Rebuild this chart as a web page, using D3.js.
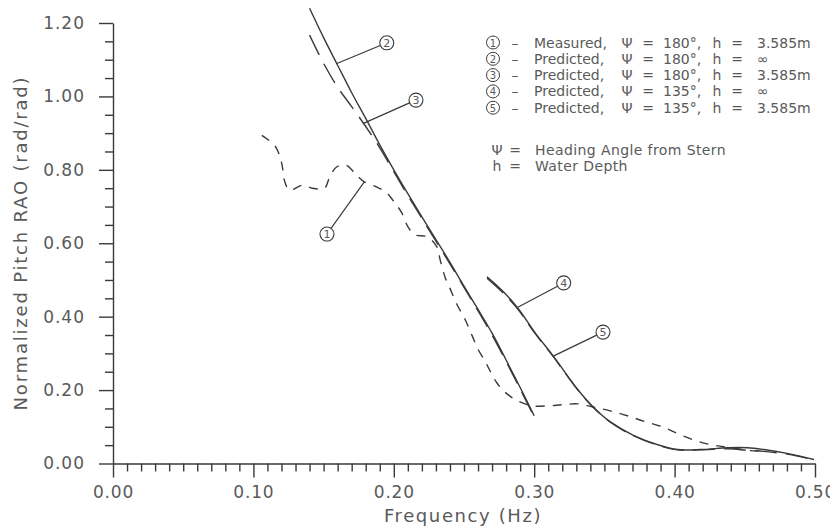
<!DOCTYPE html>
<html>
<head>
<meta charset="utf-8">
<script src="https://cdn.jsdelivr.net/npm/d3@7"></script>
<style>
  body { margin: 0; background: #fff; }
  text { font-family: "DejaVu Sans", sans-serif; fill: #5a5a5a; }
</style>
</head>
<body>
<div id="chart"></div>
<script>
// measured (1) and predicted curves (2-5), frequency in Hz, RAO in rad/rad
const measuredFreq = [0.106, 0.115, 0.1186, 0.1207, 0.122, 0.1257, 0.135, 0.142, 0.1507, 0.154, 0.159, 0.166, 0.1736, 0.179, 0.188, 0.195, 0.2007, 0.2057, 0.21, 0.215, 0.224, 0.2307, 0.233, 0.2364, 0.24, 0.245, 0.2507, 0.2557, 0.26, 0.265, 0.2686, 0.273, 0.279, 0.288, 0.2986, 0.31, 0.32, 0.331, 0.342, 0.354, 0.3664, 0.379, 0.391, 0.404, 0.417, 0.429, 0.44, 0.454, 0.465];
const measuredRao  = [0.894, 0.867, 0.84, 0.807, 0.772, 0.745, 0.758, 0.75, 0.75, 0.777, 0.807, 0.8125, 0.785, 0.767, 0.753, 0.737, 0.71, 0.683, 0.645, 0.623, 0.6175, 0.59, 0.555, 0.509, 0.477, 0.433, 0.393, 0.349, 0.311, 0.279, 0.252, 0.222, 0.195, 0.171, 0.157, 0.157, 0.16, 0.1625, 0.154, 0.1435, 0.13, 0.114, 0.1, 0.0785, 0.06, 0.049, 0.043, 0.035, 0.035];

const head180Freq = [0.14, 0.15, 0.16, 0.17, 0.18, 0.19, 0.20, 0.21, 0.22, 0.23, 0.24, 0.25, 0.26, 0.27, 0.28, 0.29, 0.30];
const deep180Rao    = [1.24, 1.16, 1.085, 1.01, 0.94, 0.868, 0.80, 0.735, 0.672, 0.61, 0.548, 0.483, 0.42, 0.355, 0.282, 0.207, 0.13];
const shallow180Rao = [1.167, 1.09, 1.025, 0.972, 0.918, 0.86, 0.795, 0.73, 0.668, 0.606, 0.544, 0.48, 0.416, 0.35, 0.278, 0.203, 0.127];

const head135Freq = [0.2664, 0.277, 0.288, 0.3007, 0.3136, 0.3307, 0.342, 0.354, 0.371, 0.388, 0.402, 0.4186, 0.438, 0.452, 0.4636, 0.481, 0.4993];
const deep135Rao    = [0.509, 0.472, 0.425, 0.356, 0.2925, 0.203, 0.154, 0.114, 0.076, 0.051, 0.038, 0.038, 0.043, 0.043, 0.038, 0.027, 0.011];
const shallow135Rao = [0.505, 0.468, 0.422, 0.354, 0.291, 0.202, 0.153, 0.113, 0.075, 0.050, 0.037, 0.037, 0.040, 0.036, 0.033, 0.025, 0.010];

const xTickLabels = ["0.00", "0.10", "0.20", "0.30", "0.40", "0.50"];
const yTickLabels = ["0.00", "0.20", "0.40", "0.60", "0.80", "1.00", "1.20"];

// callouts: curve number, point on curve, bubble centre (data units)
const callouts = [
    { n: 1, at: [0.179, 0.767], bubble: [0.1524, 0.625] },
    { n: 2, at: [0.159, 1.089], bubble: [0.195, 1.146] },
    { n: 3, at: [0.178, 0.926], bubble: [0.2158, 0.99] },
    { n: 4, at: [0.288, 0.425], bubble: [0.321, 0.492] },
    { n: 5, at: [0.3136, 0.2925], bubble: [0.349, 0.358] }
];

const legendRows = [
    { n: 1, kind: "Measured,",  angle: "180°,", depth: "3.585m" },
    { n: 2, kind: "Predicted,", angle: "180°,", depth: "∞" },
    { n: 3, kind: "Predicted,", angle: "180°,", depth: "3.585m" },
    { n: 4, kind: "Predicted,", angle: "135°,", depth: "∞" },
    { n: 5, kind: "Predicted,", angle: "135°,", depth: "3.585m" }
];

const width = 830, height = 529;
const ink = "#3a3a3a";

const svg = d3.select("#chart").append("svg")
    .attr("width", width)
    .attr("height", height);

const x = d3.scaleLinear().domain([0, 0.5]).range([113, 815]);
const y = d3.scaleLinear().domain([0, 1.2]).range([463.5, 23]);

// x axis: minor ticks every 0.01, major every 0.1
const xMinor = d3.range(0, 51).map(i => i / 100).filter((d, i) => i % 10 !== 0);
svg.append("g")
    .attr("transform", `translate(0,${y(0)})`)
    .call(d3.axisBottom(x).tickValues(xMinor).tickSize(8).tickFormat(""))
    .call(g => g.select(".domain").remove());
svg.append("g")
    .attr("class", "xaxis")
    .attr("transform", `translate(0,${y(0)})`)
    .call(d3.axisBottom(x).tickValues(xTickLabels.map(Number)).tickSize(14).tickSizeOuter(0)
        .tickPadding(5).tickFormat((d, i) => xTickLabels[i]));

// y axis: ticks every 0.05
const yMinor = d3.range(0, 25).map(i => i * 0.05).filter((d, i) => i % 4 !== 0);
svg.append("g")
    .attr("transform", `translate(${x(0)},0)`)
    .call(d3.axisLeft(y).tickValues(yMinor).tickSize(8).tickFormat(""))
    .call(g => g.select(".domain").remove());
svg.append("g")
    .attr("class", "yaxis")
    .attr("transform", `translate(${x(0)},0)`)
    .call(d3.axisLeft(y).tickValues(yTickLabels.map(Number)).tickSize(14).tickSizeOuter(0)
        .tickPadding(14).tickFormat((d, i) => yTickLabels[i]));

svg.selectAll(".domain, .tick line")
    .attr("stroke", ink)
    .attr("stroke-width", 1.4);
svg.selectAll(".xaxis .tick text")
    .style("font-size", "17px")
    .style("letter-spacing", "0.8px")
    .attr("dy", "0.9em");
svg.selectAll(".yaxis .tick text")
    .style("font-size", "17px")
    .style("letter-spacing", "1px");

svg.append("text")
    .attr("x", 463)
    .attr("y", 522)
    .attr("text-anchor", "middle")
    .style("font-size", "18px")
    .style("letter-spacing", "1.6px")
    .text("Frequency (Hz)");

svg.append("text")
    .attr("transform", `translate(27,243) rotate(-90)`)
    .attr("text-anchor", "middle")
    .style("font-size", "18px")
    .style("letter-spacing", "1.8px")
    .text("Normalized Pitch RAO (rad/rad)");

// curves
const line = d3.line()
    .x(d => x(d[0]))
    .y(d => y(d[1]))
    .curve(d3.curveCatmullRom.alpha(0.5));

const curves = [
    { f: head135Freq, v: deep135Rao, dash: null },
    { f: head135Freq, v: shallow135Rao, dash: "22,9" },
    { f: head180Freq, v: deep180Rao, dash: null },
    { f: head180Freq, v: shallow180Rao, dash: "22,10" },
    { f: measuredFreq, v: measuredRao, dash: "9,8" }
];

svg.selectAll("path.curve")
    .data(curves)
    .enter()
    .append("path")
    .attr("class", "curve")
    .attr("d", c => line(c.f.map((f, i) => [f, c.v[i]])))
    .attr("fill", "none")
    .attr("stroke", ink)
    .attr("stroke-width", 1.4)
    .attr("stroke-dasharray", c => c.dash);

// numbered callouts
const r = 7;
const co = svg.selectAll("g.callout")
    .data(callouts)
    .enter()
    .append("g")
    .attr("class", "callout");

co.append("line")
    .attr("x1", d => x(d.at[0]))
    .attr("y1", d => y(d.at[1]))
    .attr("x2", d => {
        const dx = x(d.bubble[0]) - x(d.at[0]), dy = y(d.bubble[1]) - y(d.at[1]);
        return x(d.bubble[0]) - r * dx / Math.hypot(dx, dy);
    })
    .attr("y2", d => {
        const dx = x(d.bubble[0]) - x(d.at[0]), dy = y(d.bubble[1]) - y(d.at[1]);
        return y(d.bubble[1]) - r * dy / Math.hypot(dx, dy);
    })
    .attr("stroke", ink)
    .attr("stroke-width", 1.2);

co.append("circle")
    .attr("cx", d => x(d.bubble[0]))
    .attr("cy", d => y(d.bubble[1]))
    .attr("r", r)
    .attr("fill", "#fff")
    .attr("stroke", ink)
    .attr("stroke-width", 1.1);

co.append("text")
    .attr("x", d => x(d.bubble[0]))
    .attr("y", d => y(d.bubble[1]) + 4)
    .attr("text-anchor", "middle")
    .style("font-size", "11px")
    .text(d => d.n);

// legend
const leg = svg.append("g");
const rowY = i => 42.5 + i * 16.3;
const rows = leg.selectAll("g.row")
    .data(legendRows)
    .enter()
    .append("g")
    .attr("class", "row")
    .attr("transform", (d, i) => `translate(0,${rowY(i)})`);

rows.append("circle")
    .attr("cx", 493).attr("cy", 0).attr("r", 6.5)
    .attr("fill", "none").attr("stroke", ink).attr("stroke-width", 1);
rows.append("text")
    .attr("x", 493).attr("y", 4).attr("text-anchor", "middle")
    .style("font-size", "10px").text(d => d.n);

const cols = [
    { x: 515, anchor: "middle", t: () => "–" },
    { x: 534, anchor: "start", t: d => d.kind },
    { x: 627, anchor: "middle", t: () => "Ψ" },
    { x: 648, anchor: "middle", t: () => "=" },
    { x: 663, anchor: "start", t: d => d.angle },
    { x: 717, anchor: "middle", t: () => "h" },
    { x: 737, anchor: "middle", t: () => "=" },
    { x: 757, anchor: "start", t: d => d.depth }
];
cols.forEach(c => {
    rows.append("text")
        .attr("x", c.x).attr("y", 5)
        .attr("text-anchor", c.anchor)
        .style("font-size", "14px")
        .text(c.t);
});

const notes = [["Ψ", "Heading Angle from Stern"], ["h", "Water Depth"]];
notes.forEach((n, i) => {
    const yy = 155 + i * 15.5;
    leg.append("text").attr("x", 497).attr("y", yy).attr("text-anchor", "middle")
        .style("font-size", "14px").text(n[0]);
    leg.append("text").attr("x", 515).attr("y", yy).attr("text-anchor", "middle")
        .style("font-size", "14px").text("=");
    leg.append("text").attr("x", 535).attr("y", yy)
        .style("font-size", "14px").style("letter-spacing", "0.4px").text(n[1]);
});
</script>
</body>
</html>
